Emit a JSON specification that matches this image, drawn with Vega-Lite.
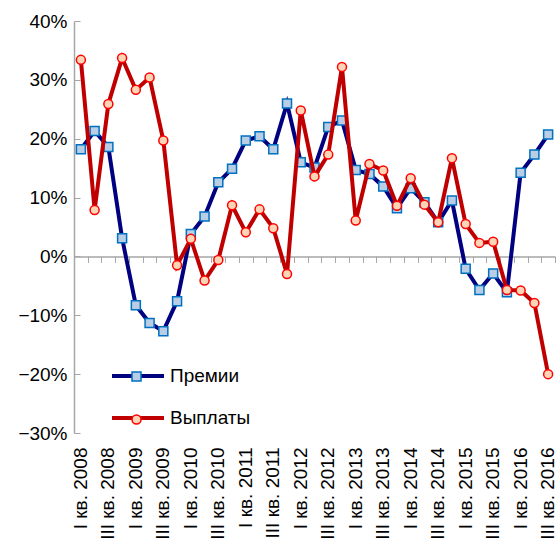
{
  "$schema": "https://vega.github.io/schema/vega-lite/v6.json",
  "autosize": {"type": "none"},
  "width": 481,
  "height": 412,
  "padding": {"left": 74, "top": 21, "right": 3, "bottom": 107},
  "background": "white",
  "config": {
    "view": {"stroke": null},
    "font": "Liberation Sans",
    "axis": {"labelFont": "Liberation Sans", "labelColor": "#000000", "labelFontSize": 19, "grid": false, "title": null},
    "legend": {"labelFont": "Liberation Sans", "labelColor": "#000000", "labelFontSize": 19, "padding": 0}
  },
  "datasets": {
    "d": [
      {"q": "I кв. 2008", "s": "Премии", "v": 0.182},
      {"q": "II кв. 2008", "s": "Премии", "v": 0.213},
      {"q": "III кв. 2008", "s": "Премии", "v": 0.186},
      {"q": "IV кв. 2008", "s": "Премии", "v": 0.031},
      {"q": "I кв. 2009", "s": "Премии", "v": -0.083},
      {"q": "II кв. 2009", "s": "Премии", "v": -0.113},
      {"q": "III кв. 2009", "s": "Премии", "v": -0.127},
      {"q": "IV кв. 2009", "s": "Премии", "v": -0.076},
      {"q": "I кв. 2010", "s": "Премии", "v": 0.038},
      {"q": "II кв. 2010", "s": "Премии", "v": 0.068},
      {"q": "III кв. 2010", "s": "Премии", "v": 0.126},
      {"q": "IV кв. 2010", "s": "Премии", "v": 0.149},
      {"q": "I кв. 2011", "s": "Премии", "v": 0.197},
      {"q": "II кв. 2011", "s": "Премии", "v": 0.204},
      {"q": "III кв. 2011", "s": "Премии", "v": 0.182},
      {"q": "IV кв. 2011", "s": "Премии", "v": 0.260},
      {"q": "I кв. 2012", "s": "Премии", "v": 0.160},
      {"q": "II кв. 2012", "s": "Премии", "v": 0.151},
      {"q": "III кв. 2012", "s": "Премии", "v": 0.220},
      {"q": "IV кв. 2012", "s": "Премии", "v": 0.231},
      {"q": "I кв. 2013", "s": "Премии", "v": 0.147},
      {"q": "II кв. 2013", "s": "Премии", "v": 0.140},
      {"q": "III кв. 2013", "s": "Премии", "v": 0.119},
      {"q": "IV кв. 2013", "s": "Премии", "v": 0.082},
      {"q": "I кв. 2014", "s": "Премии", "v": 0.116},
      {"q": "II кв. 2014", "s": "Премии", "v": 0.092},
      {"q": "III кв. 2014", "s": "Премии", "v": 0.058},
      {"q": "IV кв. 2014", "s": "Премии", "v": 0.095},
      {"q": "I кв. 2015", "s": "Премии", "v": -0.021},
      {"q": "II кв. 2015", "s": "Премии", "v": -0.057},
      {"q": "III кв. 2015", "s": "Премии", "v": -0.029},
      {"q": "IV кв. 2015", "s": "Премии", "v": -0.061},
      {"q": "I кв. 2016", "s": "Премии", "v": 0.142},
      {"q": "II кв. 2016", "s": "Премии", "v": 0.173},
      {"q": "III кв. 2016", "s": "Премии", "v": 0.207},
      {"q": "I кв. 2008", "s": "Выплаты", "v": 0.334},
      {"q": "II кв. 2008", "s": "Выплаты", "v": 0.079},
      {"q": "III кв. 2008", "s": "Выплаты", "v": 0.259},
      {"q": "IV кв. 2008", "s": "Выплаты", "v": 0.337},
      {"q": "I кв. 2009", "s": "Выплаты", "v": 0.283},
      {"q": "II кв. 2009", "s": "Выплаты", "v": 0.304},
      {"q": "III кв. 2009", "s": "Выплаты", "v": 0.197},
      {"q": "IV кв. 2009", "s": "Выплаты", "v": -0.015},
      {"q": "I кв. 2010", "s": "Выплаты", "v": 0.030},
      {"q": "II кв. 2010", "s": "Выплаты", "v": -0.041},
      {"q": "III кв. 2010", "s": "Выплаты", "v": -0.006},
      {"q": "IV кв. 2010", "s": "Выплаты", "v": 0.087},
      {"q": "I кв. 2011", "s": "Выплаты", "v": 0.041},
      {"q": "II кв. 2011", "s": "Выплаты", "v": 0.080},
      {"q": "III кв. 2011", "s": "Выплаты", "v": 0.048},
      {"q": "IV кв. 2011", "s": "Выплаты", "v": -0.030},
      {"q": "I кв. 2012", "s": "Выплаты", "v": 0.248},
      {"q": "II кв. 2012", "s": "Выплаты", "v": 0.136},
      {"q": "III кв. 2012", "s": "Выплаты", "v": 0.173},
      {"q": "IV кв. 2012", "s": "Выплаты", "v": 0.322},
      {"q": "I кв. 2013", "s": "Выплаты", "v": 0.061},
      {"q": "II кв. 2013", "s": "Выплаты", "v": 0.157},
      {"q": "III кв. 2013", "s": "Выплаты", "v": 0.146},
      {"q": "IV кв. 2013", "s": "Выплаты", "v": 0.086},
      {"q": "I кв. 2014", "s": "Выплаты", "v": 0.133},
      {"q": "II кв. 2014", "s": "Выплаты", "v": 0.088},
      {"q": "III кв. 2014", "s": "Выплаты", "v": 0.058},
      {"q": "IV кв. 2014", "s": "Выплаты", "v": 0.167},
      {"q": "I кв. 2015", "s": "Выплаты", "v": 0.055},
      {"q": "II кв. 2015", "s": "Выплаты", "v": 0.023},
      {"q": "III кв. 2015", "s": "Выплаты", "v": 0.025},
      {"q": "IV кв. 2015", "s": "Выплаты", "v": -0.057},
      {"q": "I кв. 2016", "s": "Выплаты", "v": -0.058},
      {"q": "II кв. 2016", "s": "Выплаты", "v": -0.079},
      {"q": "III кв. 2016", "s": "Выплаты", "v": -0.200}
    ]
  },
  "data": {"name": "d"},
  "encoding": {
    "y": {
      "field": "v", "type": "quantitative",
      "scale": {"domain": [-0.3, 0.4], "nice": false, "zero": false},
      "axis": {
        "values": [-0.3, -0.2, -0.1, 0, 0.1, 0.2, 0.3, 0.4],
        "format": ".0%",
        "domainColor": "#a6a6a6", "domainWidth": 1.5,
        "tickColor": "#a6a6a6", "tickWidth": 1, "tickSize": -6,
        "labelPadding": 13
      }
    }
  },
  "resolve": {"scale": {"x": "shared"}, "axis": {"x": "independent"}},
  "layer": [
    {
      "transform": [{"filter": "datum.s === 'Премии'"}],
      "mark": {"type": "line", "strokeWidth": 4},
      "encoding": {
        "x": {
          "field": "q", "type": "ordinal", "sort": null,
          "scale": {"paddingInner": 0, "paddingOuter": 0},
          "axis": {
            "orient": "bottom",
            "values": ["I кв. 2008", "III кв. 2008", "I кв. 2009", "III кв. 2009", "I кв. 2010", "III кв. 2010", "I кв. 2011", "III кв. 2011", "I кв. 2012", "III кв. 2012", "I кв. 2013", "III кв. 2013", "I кв. 2014", "III кв. 2014", "I кв. 2015", "III кв. 2015", "I кв. 2016", "III кв. 2016"],
            "labelAngle": -90, "domain": false, "ticks": false, "labelPadding": 14
          }
        },
        "color": {
          "field": "s", "type": "nominal",
          "scale": {"domain": ["Премии", "Выплаты"], "range": ["#000080", "#c00000"]},
          "legend": {
            "title": null, "orient": "none", "legendX": 36, "legendY": 327,
            "symbolType": "stroke", "symbolStrokeWidth": 4, "symbolSize": 2704,
            "labelOffset": 4, "rowPadding": 4
          }
        }
      }
    },
    {
      "transform": [{"filter": "datum.s === 'Премии'"}],
      "mark": {"type": "point", "filled": false, "strokeWidth": 1.5, "opacity": 1},
      "encoding": {
        "x": {
          "field": "q", "type": "ordinal", "sort": null,
          "axis": {
            "orient": "bottom", "offset": -176.6, "labels": false,
            "domain": true, "domainColor": "#a6a6a6", "domainWidth": 1.5,
            "ticks": true, "tickBand": "extent", "tickSize": 6, "tickColor": "#a6a6a6", "tickWidth": 1
          }
        },
        "shape": {
          "field": "s", "type": "nominal",
          "scale": {"domain": ["Выплаты", "Премии"], "range": ["circle", "square"]},
          "legend": {
            "title": null, "orient": "none", "legendX": 53, "legendY": 346,
            "values": ["Премии", "Выплаты"],
            "symbolSize": 81, "labelExpr": "''", "symbolStrokeWidth": 1.5, "rowPadding": 23
          }
        },
        "fill": {
          "field": "s", "type": "nominal",
          "scale": {"domain": ["Выплаты", "Премии"], "range": ["#fbd5b5", "#b9cde5"]}
        },
        "stroke": {
          "field": "s", "type": "nominal",
          "scale": {"domain": ["Выплаты", "Премии"], "range": ["#ff0000", "#0070c0"]}
        },
        "size": {"value": 81}
      }
    },
    {
      "transform": [{"filter": "datum.s === 'Выплаты'"}],
      "mark": {"type": "line", "strokeWidth": 4},
      "encoding": {
        "x": {"field": "q", "type": "ordinal", "sort": null, "axis": null},
        "color": {"field": "s", "type": "nominal"}
      }
    },
    {
      "transform": [{"filter": "datum.s === 'Выплаты'"}],
      "mark": {"type": "point", "filled": false, "strokeWidth": 1.5, "opacity": 1},
      "encoding": {
        "x": {"field": "q", "type": "ordinal", "sort": null, "axis": null},
        "shape": {"field": "s", "type": "nominal"},
        "fill": {"field": "s", "type": "nominal"},
        "stroke": {"field": "s", "type": "nominal"},
        "size": {"value": 81}
      }
    }
  ]
}
